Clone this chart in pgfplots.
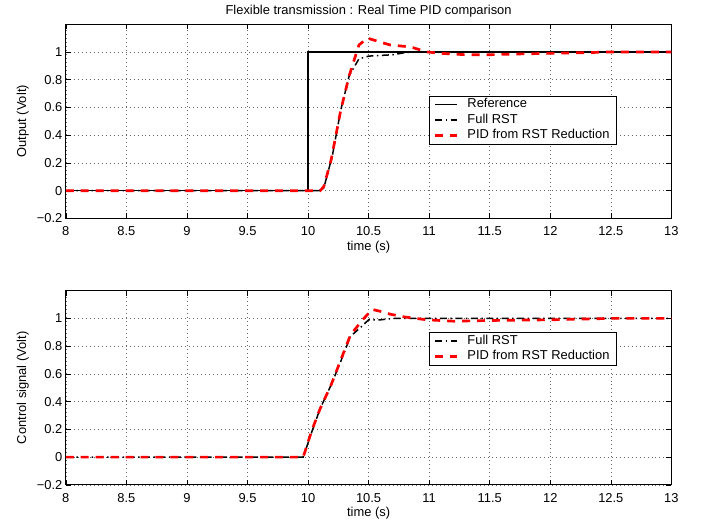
\documentclass[border=0pt]{standalone}
\usepackage{pgfplots}
\pgfplotsset{compat=1.18}
\usepackage{fontspec}
\setmainfont{Liberation Sans}
\begin{document}
\pgfplotsset{
  every axis/.append style={
    scale only axis,
    width=608bp, height=195bp,
    xmin=8, xmax=13, ymin=-0.2, ymax=1.2,
    xtick={8,8.5,...,13},
    xticklabels={8,8.5,9,9.5,10,10.5,11,11.5,12,12.5,13},
    ytick={-0.2,0,0.2,0.4,0.6,0.8,1},
    yticklabels={−0.2,0,0.2,0.4,0.6,0.8,1},
    grid=major,
    major grid style={black!60, line width=0.5bp, dash pattern=on 0.8bp off 3.2bp},
    tick align=inside,
    major tick length=5bp,
    axis line style={line width=0.8bp},
    every tick/.style={black, line width=0.6bp},
    tick label style={font=\fontsize{13}{15}\selectfont},
    xticklabel style={yshift=-5bp},
    legend style={font=\fontsize{13}{15}\selectfont, draw=black, line width=0.8bp,
      inner xsep=4.5bp, inner ysep=0.8bp, row sep=0bp,
      nodes={text height=9.5bp, text depth=3bp, inner ysep=1.5bp},
      cells={anchor=west}},
    legend image code/.code={\draw[#1] (0bp,0bp) -- (22bp,0bp); \path (29bp,0bp);},
  },
  every axis title/.style={at={(axis description cs:0.5,1)}, anchor=center, yshift=13.3bp, font=\fontsize{13}{15}\selectfont},
  every axis x label/.style={at={(axis description cs:0.5,0)}, anchor=center, yshift=-28.5bp, font=\fontsize{13}{15}\selectfont},
  every axis y label/.style={at={(axis description cs:-0.0712,0.5)}, anchor=center, rotate=90, font=\fontsize{13}{15}\selectfont},
  refline/.style={black, line width=1.6bp},
  rstline/.style={black, line width=1.5bp, dash pattern=on 7bp off 3.5bp on 1.5bp off 3.5bp},
  pidline/.style={red, line width=2.7bp, dash pattern=on 8bp off 7bp},
}
\begin{tikzpicture}
\useasboundingbox (-63.3bp,-306.7bp) rectangle (639.7bp,219.3bp);
\begin{axis}[
  at={(0bp,0bp)}, anchor=south west,
  title={Flexible transmission : Real Time PID comparison},
  xlabel={time (s)}, ylabel={Output (Volt)},
  legend style={at={(0.909,0.632)}, anchor=north east},
]
\addplot[refline] coordinates {(8,0) (10,0) (10,1) (13,1)};
\addlegendentry{Reference}
\addplot[rstline] coordinates {(8,0) (10.1,0) (10.13,0.02) (10.2,0.25) (10.27,0.58) (10.34,0.83) (10.42,0.95) (10.5,0.97) (10.6,0.975) (10.7,0.98) (10.8,0.995) (10.9,1.0) (11,1.0) (11.5,1.0) (12,1.0) (12.5,1.0) (13,1.0)};
\addlegendentry{Full RST}
\addplot[pidline] coordinates {(8,0) (10.1,0) (10.13,0.03) (10.19,0.22) (10.27,0.58) (10.34,0.83) (10.42,1.05) (10.49,1.10) (10.6,1.07) (10.68,1.05) (10.8,1.04) (10.87,1.03) (10.98,1.0) (11.1,0.99) (11.3,0.98) (11.5,0.98) (11.7,0.985) (12,0.99) (12.3,0.995) (12.5,1.0) (13,1.0)};
\addlegendentry{PID from RST Reduction}
\end{axis}
\begin{axis}[
  at={(0bp,-267.5bp)}, anchor=south west,
  xlabel={time (s)}, ylabel={Control signal (Volt)},
  legend style={at={(0.909,0.787)}, anchor=north east},
]
\addplot[rstline] coordinates {(8,0) (9.96,0) (10.03,0.18) (10.1,0.35) (10.19,0.52) (10.27,0.69) (10.35,0.87) (10.44,0.94) (10.5,0.99) (10.6,0.99) (10.7,1.0) (11,1.0) (11.5,1.0) (12,1.0) (12.5,1.0) (13,1.0)};
\addlegendentry{Full RST}
\addplot[pidline] coordinates {(8,0) (9.96,0) (10.03,0.19) (10.1,0.35) (10.19,0.52) (10.27,0.70) (10.35,0.88) (10.45,0.99) (10.53,1.065) (10.6,1.05) (10.68,1.03) (10.8,1.01) (10.98,0.99) (11.2,0.98) (11.5,0.985) (12,0.99) (12.5,1.0) (13,1.0)};
\addlegendentry{PID from RST Reduction}
\end{axis}
\end{tikzpicture}
\end{document}
